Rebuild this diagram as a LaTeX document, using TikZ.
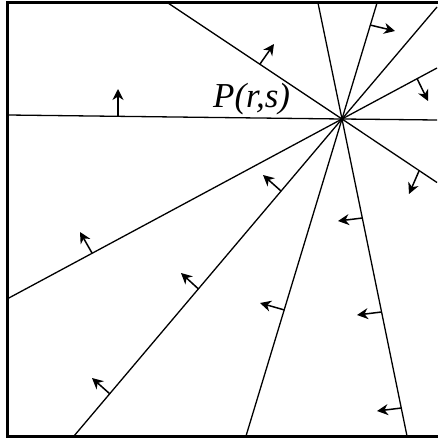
\documentclass[tikz,border=0pt]{standalone}
\usepackage{fontspec}
\setmainfont{Liberation Serif}
\usetikzlibrary{arrows.meta,calc}
\begin{document}
\begin{tikzpicture}[x=1pt,y=-1pt,
  ray/.style={line width=1.3pt},
  frame/.style={line width=2.6pt},
  arr/.style={line width=1.5pt,-{Stealth[length=11pt,width=11pt,inset=3.5pt]}}]
\useasboundingbox (0,0) rectangle (437,441);
% frame (right side lies beyond the picture)
\draw[frame] (450,2.5) -- (7.5,2.5) -- (7.5,436.5) -- (450,436.5);
\coordinate (P) at (342,119);
% rays: ends on the frame
\coordinate (A1) at (8,115);   \coordinate (A2) at (437,120);
\coordinate (B1) at (168,3);   \coordinate (B2) at (437,182.5);
\coordinate (C1) at (318,3);   \coordinate (C2) at (407,436);
\coordinate (D1) at (377,3);   \coordinate (D2) at (246,436);
\coordinate (E1) at (437,7);   \coordinate (E2) at (74,436);
\coordinate (F1) at (437,68);  \coordinate (F2) at (7,299);
\foreach \a/\b in {A1/A2,B1/B2,C1/C2,D1/D2,E1/E2,F1/F2}
  \draw[ray] (\a) -- (P) -- (\b);
% normal arrows
\draw[arr] (118,115.5) -- (118,89);
\draw[arr] (260,64) -- (274,44);
\draw[arr] (370,25) -- (395,31);
\draw[arr] (417,78.5) -- (428,101);
\draw[arr] (419,171) -- (409,194);
\draw[arr] (281,191) -- (263,175);
\draw[arr] (362.5,218) -- (338,221);
\draw[arr] (92,253) -- (80,232);
\draw[arr] (198.5,289) -- (181,273);
\draw[arr] (110,394) -- (92,378);
\draw[arr] (284.5,310) -- (260,303);
\draw[arr] (381.5,312) -- (357,315);
\draw[arr] (401.5,408) -- (377,411);
\node[anchor=base west,inner sep=0pt] (lbl) at (213,107) {\fontsize{35}{37}\selectfont\itshape P(r,s)};
\end{tikzpicture}
\end{document}
